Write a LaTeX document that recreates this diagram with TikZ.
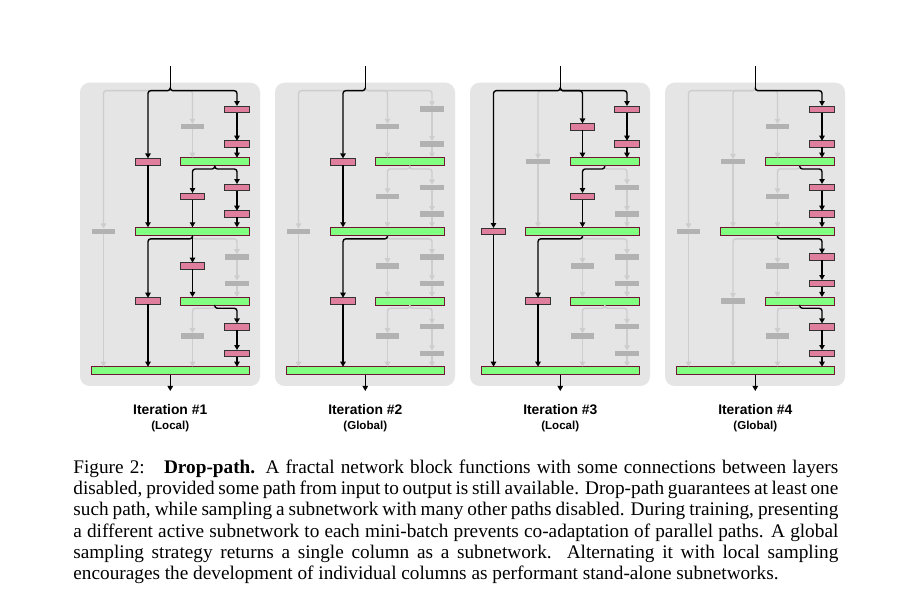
\documentclass[tikz,border=0pt]{standalone}
\usepackage{fontspec}
\setmainfont{Liberation Serif}
\newfontfamily\labelfont{Liberation Sans}
\usetikzlibrary{arrows.meta}

\definecolor{panelbg}{RGB}{229,229,229}
\definecolor{wiregray}{RGB}{205,205,205}
\definecolor{offgray}{RGB}{178,178,178}
\definecolor{convpink}{RGB}{224,126,158}
\definecolor{convline}{RGB}{51,51,51}
\definecolor{joingreen}{RGB}{128,255,128}
\definecolor{joinline}{RGB}{112,22,52}

\newcommand{\unitpx}{0.519pt}

\tikzset{
  convon/.style={fill=convpink, draw=convline, line width=0.45pt, minimum width=12.7pt, minimum height=3.4pt},
  convoff/.style={fill=offgray, draw=none, minimum width=12.4pt, minimum height=2.9pt},
  convbox/.style={rectangle, inner sep=0pt, outer sep=0pt, convoff, st-#1/.try},
  joinbox/.style={rectangle, inner sep=0pt, outer sep=0pt, fill=joingreen, draw=joinline,
    line width=0.4pt, minimum height=4.15pt, minimum width={#1*\unitpx}},
  wire/.style={line width=0.72pt, -{Triangle[length=2.6pt,width=2.8pt]}, wireoff, wst-#1/.try},
  forkwire/.style={rounded corners=1.4pt},
  active/.style={st-#1/.style=convon, wst-#1/.style=wireon},
  backpass/.style={wireon/.style={draw=none}, wireoff/.style={draw=wiregray}},
  frontpass/.style={wireon/.style={draw=black}, wireoff/.style={draw=none}},
  itername/.style={font=\labelfont\bfseries\fontsize{7.2}{8}\selectfont, inner sep=0pt},
  itermode/.style={font=\labelfont\bfseries\fontsize{6}{7}\selectfont, inner sep=0pt},
  captiontext/.style={text width=397pt, align=justify, inner sep=0pt, font=\fontsize{10}{11}\selectfont},
}

% all connections of one block, drawn once per pass
\newcommand{\fractalwires}[1]{%
  % split of the input
  \draw[wire=a1, forkwire] (#1-tip) -- ++(0,3) -| (#1-a1.north);
  \draw[wire=b1, forkwire] (#1-tip) -- ++(0,3) -| (#1-b1.north);
  \draw[wire=c1, forkwire] (#1-tip) -- ++(0,3) -| (#1-c1.north);
  \draw[wire=d1, forkwire] (#1-tip) -- ++(0,3) -| (#1-d1.north);
  % first quarter
  \draw[wire=d1] (#1-d1) -- (#1-d2);
  \draw[wire=d2] (#1-d2) -- (#1-d2 |- #1-j1.north);
  \draw[wire=c1] (#1-c1) -- (#1-c1 |- #1-j1.north);
  % second quarter
  \draw[wire=c2, forkwire] (#1-j1.south) -- ++(0,3.3) -| (#1-c2.north);
  \draw[wire=d3, forkwire] (#1-j1.south) -- ++(0,3.3) -| (#1-d3.north);
  \draw[wire=d3] (#1-d3) -- (#1-d4);
  \draw[wire=d4] (#1-d4) -- (#1-d4 |- #1-j2.north);
  \draw[wire=c2] (#1-c2) -- (#1-c2 |- #1-j2.north);
  \draw[wire=b1] (#1-b1) -- (#1-b1 |- #1-j2.north);
  % third quarter
  \draw[wire=b2, forkwire] (#1-j2.south) -- ++(0,3.6) -| (#1-b2.north);
  \draw[wire=c3] (#1-j2.south) -- (#1-c3);
  \draw[wire=d5, forkwire] (#1-j2.south) -- ++(0,3.6) -| (#1-d5.north);
  \draw[wire=d5] (#1-d5) -- (#1-d6);
  \draw[wire=d6] (#1-d6) -- (#1-d6 |- #1-j3.north);
  \draw[wire=c3] (#1-c3) -- (#1-c3 |- #1-j3.north);
  % fourth quarter
  \draw[wire=c4, forkwire] (#1-j3.south) -- ++(0,3.3) -| (#1-c4.north);
  \draw[wire=d7, forkwire] (#1-j3.south) -- ++(0,3.3) -| (#1-d7.north);
  \draw[wire=d7] (#1-d7) -- (#1-d8);
  \draw[wire=d8] (#1-d8) -- (#1-d8 |- #1-j4.north);
  \draw[wire=c4] (#1-c4) -- (#1-c4 |- #1-j4.north);
  \draw[wire=b2] (#1-b2) -- (#1-b2 |- #1-j4.north);
  \draw[wire=a1] (#1-a1) -- (#1-a1 |- #1-j4.north);
}

% one fractal block: name, shift, active layers, number, sampling
\newcommand{\fractalpanel}[5]{%
  \begin{scope}[shift={(#2,0)}, active/.list={#3}]
    % backdrop
    \fill[panelbg, rounded corners=5pt] (80,82.7) rectangle (260,386);

    % joins
    \node[joinbox=69.2] (#1-j1) at (214.75,161.7) {};
    \node[joinbox=113.7] (#1-j2) at (192.5,231.3) {};
    \node[joinbox=69.2] (#1-j3) at (214.75,301) {};
    \node[joinbox=158.2] (#1-j4) at (170.25,370.7) {};

    % columns 1 and 2
    \node[convbox=a1] (#1-a1) at (103.5,231.3) {};
    \node[convbox=b1] (#1-b1) at (148,161.7) {};
    \node[convbox=b2] (#1-b2) at (148,301) {};

    % column 3
    \node[convbox=c1] (#1-c1) at (192.5,126.7) {};
    \node[convbox=c2] (#1-c2) at (192.5,196.3) {};
    \node[convbox=c3] (#1-c3) at (192.5,266) {};
    \node[convbox=c4] (#1-c4) at (192.5,336) {};

    % column 4
    \node[convbox=d1] (#1-d1) at (237,109.3) {};
    \node[convbox=d2] (#1-d2) at (237,144) {};
    \node[convbox=d3] (#1-d3) at (237,187.3) {};
    \node[convbox=d4] (#1-d4) at (237,214) {};
    \node[convbox=d5] (#1-d5) at (237,257) {};
    \node[convbox=d6] (#1-d6) at (237,283.3) {};
    \node[convbox=d7] (#1-d7) at (237,326.7) {};
    \node[convbox=d8] (#1-d8) at (237,353.3) {};

    \coordinate (#1-in) at (170.25,66);
    \coordinate (#1-tip) at (170.25,87.7);
    \coordinate (#1-out) at (170.25,391);

    % dropped paths first, kept paths on top
    \begin{scope}[backpass] \fractalwires{#1} \end{scope}
    \begin{scope}[frontpass] \fractalwires{#1} \end{scope}
    \draw[line width=0.72pt] (#1-in) -- (#1-tip);
    \draw[line width=0.72pt, -{Triangle[length=2.6pt,width=2.8pt]}] (#1-j4.south) -- (#1-out);

    % label
    \node[itername] (#1-name) at (170.25,410) {Iteration \##4};
    \node[itermode] (#1-mode) at (170.25,426.5) {(#5)};
  \end{scope}}

\begin{document}
\begin{tikzpicture}[x=\unitpx, y=-\unitpx]
    \useasboundingbox (0,0) rectangle (913,600);
    \fill[white] (0,0) rectangle (913,600);

    % four iterations
    \fractalpanel{p1}{0}{b1,b2,c2,c3,d1,d2,d3,d4,d7,d8}{1}{Local}
    \fractalpanel{p2}{195}{b1,b2}{2}{Global}
    \fractalpanel{p3}{390}{a1,b2,c1,c2,d1,d2}{3}{Local}
    \fractalpanel{p4}{585}{d1,d2,d3,d4,d5,d6,d7,d8}{4}{Global}

    % caption
    \node[captiontext, anchor=north west] (caption) at (73,459.5) {Figure~2:\hspace{1em}\textbf{Drop-path.} A fractal network block functions with some connections between layers\linebreak
    disabled, provided some path from input to output is still available. Drop-path guarantees at least one\linebreak
    such path, while sampling a subnetwork with many other paths disabled. During training, presenting\linebreak
    a different active subnetwork to each mini-batch prevents co-adaptation of parallel paths. A global\linebreak
    sampling strategy returns a single column as a subnetwork.  Alternating it with local sampling\linebreak
    encourages the development of individual columns as performant stand-alone subnetworks.};
\end{tikzpicture}
\end{document}
